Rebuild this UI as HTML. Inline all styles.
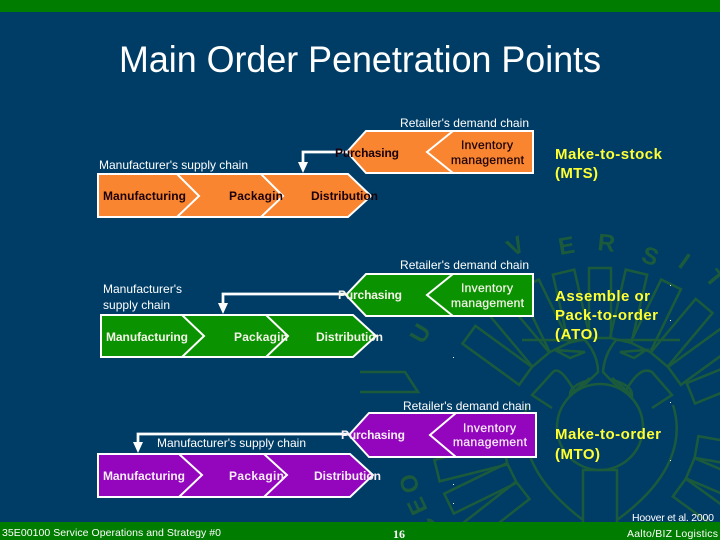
<!DOCTYPE html>
<html><head><meta charset="utf-8"><style>
html,body{margin:0;padding:0;background:#003d66;width:720px;height:540px;overflow:hidden}
svg{display:block}
text{font-family:"Liberation Sans",sans-serif}
.w{fill:#fff;font-size:12px}
.y{fill:#ffff33;font-size:15px;font-weight:bold}
.b{font-size:12px;font-weight:bold}
.i{font-size:12px;stroke-width:.25}
.sh{stroke:#fff;stroke-width:2;stroke-linejoin:miter}
.ws{fill:#1b5b3c;font-size:24px;font-weight:bold}
</style></head><body>
<svg width="720" height="540" viewBox="0 0 720 540" xmlns="http://www.w3.org/2000/svg">
<rect width="720" height="540" fill="#003d66"/>
<g fill="none" stroke="#1b5b3c" stroke-width="2.5">
<g id="seal">
<rect x="589" y="268" width="22" height="70" transform="rotate(0 600 430)"/>
<rect x="589" y="268" width="22" height="70" transform="rotate(-13 600 430)"/>
<rect x="589" y="268" width="22" height="70" transform="rotate(13 600 430)"/>
<rect x="589" y="268" width="22" height="70" transform="rotate(-26 600 430)"/>
<rect x="589" y="268" width="22" height="70" transform="rotate(26 600 430)"/>
<rect x="589" y="268" width="22" height="70" transform="rotate(-40 600 430)"/>
<rect x="589" y="268" width="22" height="70" transform="rotate(40 600 430)"/>
<rect x="589" y="268" width="22" height="70" transform="rotate(-54 600 430)"/>
<rect x="589" y="268" width="22" height="70" transform="rotate(54 600 430)"/>
<rect x="589" y="262" width="22" height="70" transform="rotate(68 600 430)"/>
<rect x="589" y="262" width="22" height="70" transform="rotate(100 600 430)"/>
<rect x="589" y="262" width="22" height="70" transform="rotate(113 600 430)"/>
<rect x="589" y="262" width="22" height="70" transform="rotate(126 600 430)"/>
<rect x="589" y="262" width="22" height="70" transform="rotate(-104 600 430)"/>
<rect x="589" y="262" width="22" height="70" transform="rotate(-116 600 430)"/>
<rect x="589" y="262" width="22" height="70" transform="rotate(-128 600 430)"/>
</g>
<circle cx="600" cy="427" r="43"/>
<path d="M583 522V470H617V522"/>
<path d="M527 405C518 440 530 480 583 520"/>
<path d="M673 405C684 440 672 480 617 520"/>
<path d="M522 340H585Q598 355 598 372Q585 385 575 392Q560 365 553 372L532 395L552 408"/>
<path d="M680 340H616Q604 355 603 372Q615 385 625 392Q640 365 652 372L672 395L652 408"/>
<path d="M360 372H405L418 392H360"/>
<path d="M555 350L585 352L570 358Z M646 350L620 352L634 358Z"/>
<path d="M590 380Q570 385 570 395L590 378 M612 380Q632 385 632 395L612 378"/>
</g>
<text class="ws" transform="translate(512 257) rotate(-27)">V</text>
<text class="ws" transform="translate(560 255) rotate(-10)">E</text>
<text class="ws" transform="translate(597 250) rotate(6)">R</text>
<text class="ws" transform="translate(640 261) rotate(20)">S</text>
<text class="ws" transform="translate(677 266) rotate(35)">I</text>
<text class="ws" transform="translate(704 278) rotate(50)">T</text>
<text class="ws" transform="translate(423 345) rotate(-60)">U</text>
<text class="ws" transform="translate(420 490) rotate(-108)">O</text>
<text class="ws" transform="translate(428 510) rotate(-115)">E</text>
<text class="ws" transform="translate(440 530) rotate(-125)">C</text>
<g fill="#fff">
<rect x="670" y="285" width="1" height="1"/><rect x="670" y="320" width="1" height="1"/><rect x="453" y="357" width="1" height="1"/><rect x="670" y="402" width="1" height="1"/><rect x="670" y="460" width="1" height="1"/><rect x="453" y="484" width="1" height="1"/><rect x="453" y="503" width="1" height="1"/>
</g>
<rect x="0" y="0" width="720" height="12" fill="#007c00"/>
<rect x="0" y="522" width="720" height="18" fill="#007c00"/>
<text x="119" y="72" fill="#fff" font-size="37.5" textLength="482" lengthAdjust="spacingAndGlyphs">Main Order Penetration Points</text>

<!-- Row 1 -->
<g fill="#f98530" class="sh">
<polygon points="366,131 533,131 533,173 366,173 347,152"/>
<polygon points="453,131 533,131 533,173 453,173 427,152"/>
<polygon points="240,174 348,174 371,196 348,217 240,217"/>
<polygon points="160,174 261,174 283,196 261,217 160,217"/>
<polygon points="98,174 177,174 199,196 177,217 98,217"/>
</g>
<path d="M347 152H303V165" fill="none" stroke="#fff" stroke-width="2.7"/>
<polygon points="298,162 308,162 303,173" fill="#fff"/>
<text class="w" x="400" y="127" textLength="129">Retailer's demand chain</text>
<text class="w" x="99" y="169" textLength="149">Manufacturer's supply chain</text>
<g fill="#1a0008">
<text class="b" x="335" y="157" textLength="64">Purchasing</text>
<text class="b" x="103" y="200" textLength="83">Manufacturing</text>
<text class="b" x="229" y="200" textLength="54">Packagin</text>
<text class="b" x="311" y="200" textLength="67">Distribution</text>
<text class="i" stroke="#1a0008" x="461" y="149" textLength="52">Inventory</text>
<text class="i" stroke="#1a0008" x="451" y="164" textLength="73">management</text>
</g>
<text class="y" x="555" y="159" textLength="107">Make-to-stock</text>
<text class="y" x="555" y="178" textLength="43">(MTS)</text>

<!-- Row 2 -->
<g fill="#0a9200" class="sh">
<polygon points="366,274 533,274 533,316 366,316 346,295"/>
<polygon points="453,274 533,274 533,316 453,316 427,295"/>
<polygon points="240,315 353,315 376,336 353,357 240,357"/>
<polygon points="160,315 266,315 288,336 266,357 160,357"/>
<polygon points="101,315 182,315 204,336 182,357 101,357"/>
</g>
<path d="M346 294H223V306" fill="none" stroke="#fff" stroke-width="2.7"/>
<polygon points="218,303 228,303 223,314" fill="#fff"/>
<text class="w" x="400" y="269" textLength="129">Retailer's demand chain</text>
<text class="w" x="103" y="293" textLength="79">Manufacturer's</text>
<text class="w" x="103" y="309" textLength="67">supply chain</text>
<g fill="#f4f4e8">
<text class="b" x="338" y="299" textLength="64">Purchasing</text>
<text class="b" x="106" y="341" textLength="82">Manufacturing</text>
<text class="b" x="234" y="341" textLength="54">Packagin</text>
<text class="b" x="316" y="341" textLength="67">Distribution</text>
<text class="i" stroke="#f4f4e8" x="461" y="292" textLength="52">Inventory</text>
<text class="i" stroke="#f4f4e8" x="451" y="307" textLength="73">management</text>
</g>
<text class="y" x="555" y="301" textLength="95">Assemble or</text>
<text class="y" x="555" y="320" textLength="103">Pack-to-order</text>
<text class="y" x="555" y="339" textLength="43">(ATO)</text>

<!-- Row 3 -->
<g fill="#9406bd" class="sh">
<polygon points="369,413 536,413 536,457 369,457 349,435"/>
<polygon points="456,413 536,413 536,457 456,457 430,435"/>
<polygon points="240,454 350,454 373,475 350,497 240,497"/>
<polygon points="160,454 264,454 287,475 264,497 160,497"/>
<polygon points="98,454 179,454 202,475 179,497 98,497"/>
</g>
<path d="M349 434H138V445" fill="none" stroke="#fff" stroke-width="2.7"/>
<polygon points="133,442 143,442 138,453" fill="#fff"/>
<text class="w" x="403" y="410" textLength="128">Retailer's demand chain</text>
<text class="w" x="157" y="447" textLength="149">Manufacturer's supply chain</text>
<g fill="#f8eef8">
<text class="b" x="341" y="439" textLength="64">Purchasing</text>
<text class="b" x="103" y="480" textLength="82">Manufacturing</text>
<text class="b" x="229" y="480" textLength="55">Packagin</text>
<text class="b" x="314" y="480" textLength="67">Distribution</text>
<text class="i" stroke="#f8eef8" x="463" y="432" textLength="53">Inventory</text>
<text class="i" stroke="#f8eef8" x="453" y="446" textLength="74">management</text>
</g>
<text class="y" x="555" y="439" textLength="106">Make-to-order</text>
<text class="y" x="555" y="459" textLength="45">(MTO)</text>

<!-- Footer -->
<text x="632" y="521" fill="#fff" font-size="10.5" textLength="82">Hoover et al. 2000</text>
<text x="2" y="536" fill="#fff" font-size="10.5" textLength="219">35E00100 Service Operations and Strategy  #0</text>
<text x="393" y="538" fill="#fff" font-size="12" font-weight="bold" style="font-family:'Liberation Serif',serif" textLength="12">16</text>
<text x="627" y="537" fill="#fff" font-size="10.5" textLength="91">Aalto/BIZ Logistics</text>
</svg>
</body></html>
